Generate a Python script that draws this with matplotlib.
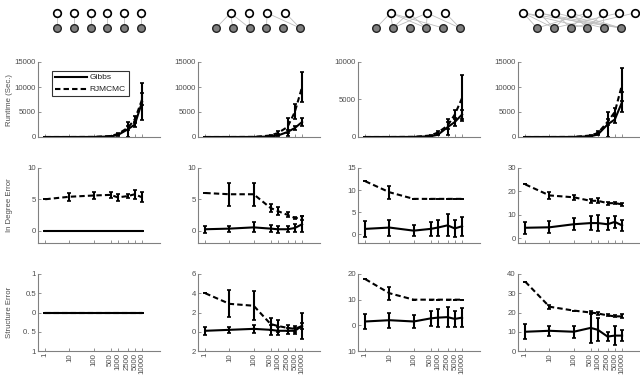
import matplotlib
matplotlib.use("Agg")
import matplotlib.pyplot as plt
import numpy as np
from matplotlib.ticker import FixedLocator, NullLocator, FixedFormatter

plt.rcParams['font.family'] = ['Liberation Sans', 'DejaVu Sans']

# ---------------- data ----------------
x_vals = [1, 10, 100, 500, 1000, 2500, 5000, 10000]
x_labels = ['1', '10', '100', '500', '1000', '2500', '5000', '10000']

# Runtime (Sec.)
rt_gibbs = [
    [0, 0, 10, 100, 400, 1500, 2500, 7000],
    [0, 0, 10, 100, 300, 1000, 1800, 3000],
    [0, 0, 10, 100, 300, 1300, 2000, 3000],
    [0, 0, 10, 150, 500, 2500, 3500, 7000],
]
rt_gibbs_err = [
    [0, 0, 0, 20, 200, 1500, 500, 3700],
    [0, 0, 0, 20, 100, 300, 400, 800],
    [0, 0, 0, 20, 100, 1100, 500, 600],
    [0, 0, 0, 30, 200, 2500, 700, 2000],
]
rt_rj = [
    [0, 0, 20, 200, 600, 1800, 3500, 7500],
    [0, 0, 20, 300, 800, 2000, 5000, 10000],
    [0, 0, 20, 200, 600, 1500, 3000, 5200],
    [0, 0, 20, 300, 800, 3000, 5000, 10500],
]
rt_rj_err = [
    [0, 0, 0, 50, 200, 400, 700, 1200],
    [0, 0, 0, 100, 300, 1800, 1500, 3000],
    [0, 0, 0, 50, 200, 500, 600, 3100],
    [0, 0, 0, 100, 300, 600, 800, 3300],
]

# In Degree Error
ind_gibbs = [
    [0, 0, 0, 0, 0, 0, 0, 0],
    [0.2, 0.3, 0.5, 0.3, 0.2, 0.2, 0.4, 1.0],
    [1.2, 1.5, 0.8, 1.2, 1.5, 2.0, 1.3, 1.8],
    [4.5, 4.7, 6.0, 6.5, 6.5, 6.0, 7.0, 5.5],
]
ind_gibbs_err = [
    [0, 0, 0, 0, 0, 0, 0, 0],
    [0.6, 0.5, 0.8, 0.6, 0.6, 0.5, 0.6, 1.3],
    [1.9, 1.8, 1.2, 1.5, 1.8, 2.5, 2.0, 2.2],
    [2.5, 2.5, 2.5, 3.0, 3.5, 2.5, 2.5, 2.5],
]
ind_rj = [
    [5.0, 5.4, 5.6, 5.7, 5.3, 5.5, 5.8, 5.3],
    [6.0, 5.8, 5.8, 3.6, 3.1, 2.5, 2.0, 2.0],
    [12.0, 9.5, 8.0, 8.0, 8.0, 8.0, 8.0, 8.0],
    [23.0, 18.3, 17.5, 16.0, 16.0, 15.0, 15.0, 14.5],
]
ind_rj_err = [
    [0, 0.6, 0.5, 0.5, 0.6, 0.3, 0.7, 0.8],
    [0, 1.8, 1.8, 0.7, 0.6, 0.4, 0.2, 0.3],
    [0, 1.5, 0, 0, 0, 0, 0, 0],
    [0, 1.5, 1.0, 0.8, 1.0, 0.7, 0.5, 0.6],
]

# Structure Error
st_gibbs = [
    [0, 0, 0, 0, 0, 0, 0, 0],
    [0.1, 0.2, 0.3, 0.2, 0.1, 0.1, 0.1, 0.6],
    [1.5, 2.0, 1.5, 2.7, 3.0, 3.2, 2.5, 3.0],
    [10.0, 10.5, 10.0, 12.0, 11.0, 7.5, 8.0, 8.0],
]
st_gibbs_err = [
    [0, 0, 0, 0, 0, 0, 0, 0],
    [0.4, 0.3, 0.4, 0.5, 0.4, 0.3, 0.3, 1.4],
    [3.0, 3.0, 2.5, 3.0, 3.5, 3.8, 3.0, 3.8],
    [4.0, 2.5, 3.0, 8.0, 6.0, 2.5, 5.0, 3.0],
]
st_rj = [
    [0, 0, 0, 0, 0, 0, 0, 0],
    [4.0, 2.9, 2.7, 0.8, 0.6, 0.4, 0.3, 0.6],
    [18.0, 12.5, 10.0, 10.0, 10.0, 10.0, 10.0, 10.0],
    [36.0, 23.0, 21.0, 20.0, 19.5, 18.5, 18.0, 18.0],
]
st_rj_err = [
    [0, 0, 0, 0, 0, 0, 0, 0],
    [0, 1.4, 1.5, 0.6, 0.6, 0.3, 0.3, 0.3],
    [0, 2.5, 0, 0, 0, 0, 0, 0],
    [0, 1.0, 0, 1.0, 1.0, 0.5, 0.5, 1.0],
]

row_labels = ['Runtime (Sec.)', 'In Degree Error', 'Structure Error']
series_labels = ['Gibbs', 'RJMCMC']

ylims = [
    [(0, 15000), (0, 15000), (0, 10000), (0, 15000)],
    [(-2, 10), (-2, 10), (-2, 15), (-2, 30)],
    [(-1, 1), (-2, 6), (-10, 20), (0, 40)],
]
yticks = [
    [[0, 5000, 10000, 15000], [0, 5000, 10000, 15000], [0, 5000, 10000], [0, 5000, 10000, 15000]],
    [[0, 5, 10], [0, 5, 10], [0, 5, 10, 15], [0, 10, 20, 30]],
    [[-1, -0.5, 0, 0.5, 1], [-2, 0, 2, 4, 6], [-10, 0, 10, 20], [0, 10, 20, 30, 40]],
]
ytick_labels = [
    [['0', '5000', '10000', '15000'], ['0', '5000', '10000', '15000'], ['0', '5000', '10000'], ['0', '5000', '10000', '15000']],
    [['0', '5', '10'], ['0', '5', '10'], ['0', '5', '10', '15'], ['0', '10', '20', '30']],
    [['1', '0. 5', '0', '0.5', '1'], ['2', '0', '2', '4', '6'], ['10', '0', '10', '20'], ['0', '10', '20', '30', '40']],
]

# network icons: number of hidden (white) and observed (gray) nodes, edges
n_top = [6, 4, 4, 8]
n_bottom = [6, 6, 6, 6]
edges = [
    [(0, 0), (1, 1), (2, 2), (3, 3), (4, 4), (5, 5)],
    [(0, 0), (0, 1), (0, 2), (1, 2), (2, 3), (2, 5), (3, 5)],
    [(0, 0), (0, 1), (0, 3), (0, 4), (1, 1), (1, 3), (2, 1), (2, 3), (2, 5), (3, 5)],
    [(0, 0), (0, 1), (0, 3), (0, 5), (1, 1), (1, 4), (2, 2), (2, 5), (3, 1), (3, 3),
     (4, 0), (4, 2), (5, 3), (5, 4), (6, 1), (7, 2), (1, 5), (3, 5)],
]

# ---------------- figure ----------------
W, H = 640, 375
fig = plt.figure(figsize=(6.4, 3.75), dpi=100)

col_left = [38, 198, 358, 518]
ax_w = 122
row_tb = [(62, 137), (168, 243), (274, 351)]
spine_c = '#808080'
text_c = '#4d4d4d'
fs = 5.6

data_rows = [
    (rt_gibbs, rt_gibbs_err, rt_rj, rt_rj_err),
    (ind_gibbs, ind_gibbs_err, ind_rj, ind_rj_err),
    (st_gibbs, st_gibbs_err, st_rj, st_rj_err),
]

dash = (0, (2.6, 1.5))
for r in range(3):
    top, bot = row_tb[r]
    for c in range(4):
        ax = fig.add_axes([col_left[c] / W, 1 - bot / H, ax_w / W, (bot - top) / H])
        g, ge, rj, rje = (d[c] for d in data_rows[r])
        ax.plot(x_vals, g, color='black', lw=1.5, ls='-', label=series_labels[0])
        ax.plot(x_vals, rj, color='black', lw=1.5, ls=dash, label=series_labels[1])
        ax.errorbar(x_vals, g, yerr=ge, fmt='none', ecolor='black', elinewidth=1.5,
                    capsize=1.2, capthick=1.2)
        ax.errorbar(x_vals, rj, yerr=rje, fmt='none', ecolor='black', elinewidth=1.5,
                    capsize=1.2, capthick=1.2)
        ax.set_xscale('log')
        ax.set_xlim(0.5, 55000)
        ax.set_ylim(*ylims[r][c])
        ax.xaxis.set_major_locator(FixedLocator(x_vals))
        ax.xaxis.set_minor_locator(NullLocator())
        if r == 2:
            ax.xaxis.set_major_formatter(FixedFormatter(x_labels))
            ax.tick_params(axis='x', labelrotation=90)
        else:
            ax.xaxis.set_major_formatter(FixedFormatter([''] * len(x_vals)))
        ax.set_yticks(yticks[r][c])
        ax.set_yticklabels(ytick_labels[r][c])
        for s in ['top', 'right']:
            ax.spines[s].set_visible(False)
        for s in ['left', 'bottom']:
            ax.spines[s].set_color(spine_c)
            ax.spines[s].set_linewidth(0.8)
        ax.tick_params(direction='in', length=2, width=0.6, color=spine_c,
                       labelsize=fs, labelcolor=text_c, pad=1.5)
        ax.patch.set_alpha(0)
        if r == 0 and c == 0:
            leg = ax.legend(loc='upper left', bbox_to_anchor=(0.08, 0.94), fontsize=6,
                            frameon=True, fancybox=False, handlelength=3.9,
                            borderpad=0.35, labelspacing=0.5, handletextpad=0.3)
            leg.get_frame().set_edgecolor('black')
            leg.get_frame().set_linewidth(0.8)
            for t in leg.get_texts():
                t.set_color('#222222')

    fig.text(10 / W, 1 - (top + bot) / 2 / H, row_labels[r], rotation=90,
             ha='center', va='center', fontsize=fs, color=text_c)

# ---------------- network icons ----------------
ia = fig.add_axes([0, 0, 1, 1])
ia.set_xlim(0, W)
ia.set_ylim(H, 0)
ia.axis('off')
ia.patch.set_alpha(0)
col_center = [99, 258, 418, 579]
y_top, y_bot = 13, 28
for c in range(4):
    nb = n_bottom[c]
    nt = n_top[c]
    sp_b = 16.8
    sp_t = 16.8 if nt == 6 else (18.3 if nt == 4 else 15.9)
    xb = col_center[c] + (np.arange(nb) - (nb - 1) / 2) * sp_b
    xt = col_center[c] + (np.arange(nt) - (nt - 1) / 2) * sp_t
    for (i, j) in edges[c]:
        ia.plot([xt[i], xb[j]], [y_top, y_bot], color='#bdbdbd', lw=0.6, zorder=1)
    ia.scatter(xt, [y_top] * nt, s=30, facecolor='white', edgecolor='black',
               linewidth=1.2, zorder=3)
    ia.scatter(xb, [y_bot] * nb, s=30, facecolor='#808080', edgecolor='#222222',
               linewidth=1.0, zorder=3)

fig.savefig('out.png', dpi=100)
